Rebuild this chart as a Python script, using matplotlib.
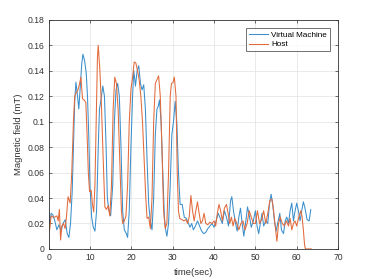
import matplotlib
matplotlib.use("Agg")
import matplotlib.pyplot as plt

# Virtual Machine trace (time in sec, field in mT)
vm_time = [
    0.0, 0.3, 0.6, 1.0, 1.5, 2.0, 2.5, 3.0, 3.5, 4.0, 4.5, 4.9, 5.3, 5.7,
    6.0, 6.3, 6.6, 7.0, 7.3, 7.6, 8.0, 8.3, 8.7, 9.1, 9.4, 9.7, 10.0, 10.4,
    10.8, 11.2, 11.6, 12.0, 12.3, 12.7, 13.1, 13.5, 13.9, 14.2, 14.6, 15.0,
    15.5, 15.9, 16.3, 16.7, 17.1, 17.5, 17.9, 18.3, 18.8, 19.1, 19.5, 19.9,
    20.3, 20.6, 21.0, 21.4, 21.8, 22.2, 22.6, 23.0, 23.4, 23.8, 24.2, 24.6,
    25.0, 25.4, 25.8, 26.2, 26.5, 26.8, 27.2, 27.6, 28.0, 28.3, 28.6, 29.0,
    29.4, 29.8, 30.2, 30.6, 31.0, 31.4, 31.8, 32.3, 32.8, 33.3, 33.8, 34.2,
    34.6, 35.0, 35.5, 36.0, 36.5, 37.0, 37.5, 38.0, 38.5, 39.0, 39.5, 40.0,
    40.5, 41.0, 41.5, 42.0, 42.5, 43.0, 43.5, 44.0, 44.3, 44.7, 45.2, 45.6,
    46.0, 46.4, 46.8, 47.2, 47.7, 48.1, 48.6, 49.0, 49.5, 50.0, 50.4, 50.8,
    51.2, 51.6, 52.0, 52.5, 53.0, 53.4, 53.8, 54.2, 54.6, 55.0, 55.5, 55.9,
    56.3, 56.8, 57.2, 57.6, 58.0, 58.4, 58.8, 59.2, 59.6, 60.0, 60.4, 60.8,
    61.2, 61.6, 62.0, 62.5, 63.0, 63.4,
]
vm_field = [
    0.031, 0.020, 0.028, 0.027, 0.022, 0.015, 0.019, 0.014, 0.020, 0.023,
    0.012, 0.009, 0.020, 0.045, 0.080, 0.115, 0.131, 0.120, 0.110, 0.125,
    0.145, 0.153, 0.148, 0.138, 0.120, 0.090, 0.050, 0.025, 0.017, 0.014,
    0.030, 0.080, 0.110, 0.118, 0.128, 0.120, 0.080, 0.040, 0.030, 0.026,
    0.050, 0.100, 0.125, 0.130, 0.120, 0.080, 0.030, 0.015, 0.012, 0.009,
    0.030, 0.080, 0.120, 0.140, 0.128, 0.140, 0.144, 0.130, 0.125, 0.129,
    0.110, 0.070, 0.035, 0.022, 0.015, 0.040, 0.090, 0.110, 0.112, 0.117,
    0.100, 0.060, 0.025, 0.015, 0.010, 0.020, 0.050, 0.090, 0.100, 0.116,
    0.100, 0.060, 0.035, 0.035, 0.025, 0.024, 0.020, 0.017, 0.020, 0.015,
    0.018, 0.022, 0.018, 0.014, 0.012, 0.013, 0.016, 0.018, 0.020, 0.017,
    0.022, 0.028, 0.024, 0.020, 0.030, 0.025, 0.018, 0.038, 0.041, 0.030,
    0.020, 0.014, 0.025, 0.032, 0.020, 0.010, 0.022, 0.033, 0.025, 0.017,
    0.022, 0.030, 0.018, 0.012, 0.020, 0.028, 0.018, 0.022, 0.020, 0.035,
    0.043, 0.035, 0.022, 0.014, 0.022, 0.028, 0.015, 0.012, 0.022, 0.025,
    0.020, 0.030, 0.036, 0.022, 0.030, 0.036, 0.030, 0.022, 0.030, 0.037,
    0.032, 0.023, 0.022, 0.031,
]

# Host trace
host_time = [
    0.0, 0.3, 0.6, 1.0, 1.5, 2.0, 2.3, 2.6, 2.9, 3.2, 3.6, 4.0, 4.3, 4.7,
    5.2, 5.6, 6.0, 6.3, 6.7, 7.1, 7.5, 7.8, 8.2, 8.6, 9.0, 9.3, 9.6, 9.9,
    10.3, 10.6, 10.9, 11.2, 11.5, 11.8, 12.0, 12.4, 12.8, 13.2, 13.6, 14.0,
    14.4, 14.8, 15.2, 15.6, 16.0, 16.4, 16.8, 17.2, 17.6, 17.9, 18.3, 18.7,
    19.1, 19.5, 19.9, 20.3, 20.7, 21.1, 21.5, 21.9, 22.3, 22.7, 23.1, 23.5,
    23.8, 24.2, 24.6, 25.0, 25.4, 25.8, 26.2, 26.6, 27.0, 27.4, 27.8, 28.2,
    28.6, 29.0, 29.4, 29.7, 30.1, 30.4, 30.8, 31.1, 31.4, 31.7, 32.2, 32.7,
    33.2, 33.6, 34.0, 34.4, 34.8, 35.2, 35.6, 36.0, 36.4, 36.8, 37.2, 37.6,
    38.0, 38.5, 39.0, 39.5, 40.0, 40.4, 40.8, 41.2, 41.6, 42.0, 42.5, 43.0,
    43.4, 43.8, 44.2, 44.6, 45.0, 45.5, 46.0, 46.5, 47.0, 47.5, 48.0, 48.5,
    49.0, 49.5, 50.0, 50.5, 51.0, 51.5, 52.0, 52.5, 53.0, 53.5, 54.0, 54.4,
    54.8, 55.2, 55.6, 56.0, 56.5, 57.0, 57.5, 58.0, 58.4, 58.8, 59.2, 59.6,
    60.0, 60.5, 61.0, 61.3, 61.6, 61.9, 62.1, 63.0, 63.5,
]
host_field = [
    0.013, 0.016, 0.026, 0.025, 0.025, 0.026, 0.022, 0.031, 0.007, 0.018,
    0.020, 0.016, 0.025, 0.041, 0.036, 0.060, 0.100, 0.120, 0.123, 0.125,
    0.130, 0.135, 0.118, 0.117, 0.115, 0.090, 0.060, 0.045, 0.046, 0.035,
    0.029, 0.050, 0.100, 0.150, 0.160, 0.140, 0.110, 0.070, 0.033, 0.031,
    0.034, 0.026, 0.050, 0.110, 0.135, 0.130, 0.110, 0.070, 0.030, 0.020,
    0.022, 0.026, 0.050, 0.100, 0.125, 0.135, 0.147, 0.146, 0.140, 0.133,
    0.120, 0.100, 0.070, 0.040, 0.024, 0.025, 0.016, 0.040, 0.100, 0.130,
    0.133, 0.136, 0.120, 0.080, 0.030, 0.016, 0.020, 0.060, 0.120, 0.130,
    0.131, 0.135, 0.120, 0.060, 0.030, 0.024, 0.023, 0.022, 0.023, 0.020,
    0.025, 0.042, 0.030, 0.022, 0.030, 0.037, 0.028, 0.020, 0.022, 0.028,
    0.020, 0.019, 0.021, 0.020, 0.022, 0.018, 0.028, 0.035, 0.030, 0.022,
    0.032, 0.035, 0.028, 0.020, 0.025, 0.018, 0.024, 0.020, 0.015, 0.020,
    0.022, 0.015, 0.020, 0.030, 0.025, 0.020, 0.020, 0.030, 0.020, 0.023,
    0.030, 0.020, 0.028, 0.038, 0.039, 0.030, 0.018, 0.006, 0.020, 0.025,
    0.020, 0.018, 0.022, 0.018, 0.024, 0.015, 0.020, 0.022, 0.018, 0.025,
    0.030, 0.025, 0.015, 0.003, 0.0, 0.0, 0.0,
]

x_ticks = [0, 10, 20, 30, 40, 50, 60, 70]
y_ticks = [0, 0.02, 0.04, 0.06, 0.08, 0.1, 0.12, 0.14, 0.16, 0.18]
y_tick_labels = ["0", "0.02", "0.04", "0.06", "0.08", "0.1",
                 "0.12", "0.14", "0.16", "0.18"]

plt.rcParams["font.family"] = ["Liberation Sans", "DejaVu Sans"]

fig = plt.figure(figsize=(3.74, 2.80), dpi=100)
ax = fig.add_axes([0.13, 0.111, 0.774, 0.818])

ax.plot(vm_time, vm_field, color="#3a8fcc", lw=0.75, label="Virtual Machine")
ax.plot(host_time, host_field, color="#e26a3a", lw=0.75, label="Host")

ax.set_xlim(0, 70)
ax.set_ylim(0, 0.18)
ax.set_xticks(x_ticks)
ax.set_yticks(y_ticks)
ax.set_yticklabels(y_tick_labels)
ax.grid(True, color="#e6e6e6", lw=0.6)
ax.set_axisbelow(True)
ax.tick_params(direction="in", length=2.5, width=0.5, labelsize=6.2,
               colors="#333333", top=True, right=True, pad=3)
for spine in ax.spines.values():
    spine.set_linewidth(0.6)
    spine.set_color("#333333")

ax.set_xlabel("time(sec)", fontsize=6.8, color="#333333", labelpad=4)
ax.set_ylabel("Magnetic field (mT)", fontsize=6.8, color="#333333", labelpad=3)

leg = ax.legend(loc="upper right", fontsize=5.9, frameon=True, fancybox=False,
                borderpad=0.35, handlelength=2.4, handletextpad=0.35,
                labelspacing=0.25, borderaxespad=1.0)
leg.get_frame().set_edgecolor("#333333")
leg.get_frame().set_linewidth(0.6)

fig.savefig("out.png", dpi=100)
